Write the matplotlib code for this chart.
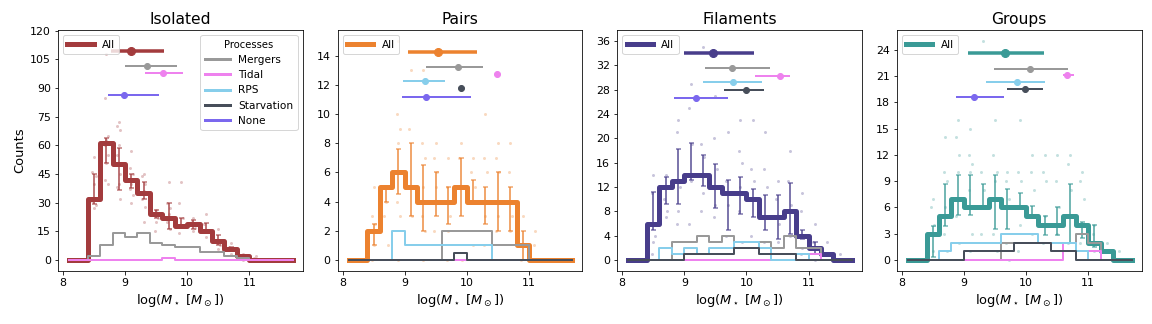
import numpy as np
import matplotlib
matplotlib.use('Agg')
import matplotlib.pyplot as plt
from matplotlib.lines import Line2D

# bin centres of the stellar mass histograms
centers = [8.1, 8.3, 8.5, 8.7, 8.9, 9.1, 9.3, 9.5, 9.7, 9.9,
           10.1, 10.3, 10.5, 10.7, 10.9, 11.1, 11.3, 11.5, 11.7]

envs = ['Isolated', 'Pairs', 'Filaments', 'Groups']
env_colors = ['#a33b3d', '#ec822f', '#483d8b', '#3a9a96']

processes = ['Mergers', 'Tidal', 'RPS', 'Starvation', 'None']
proc_colors = ['#999999', '#ee82ee', '#87ceeb', '#474e5a', '#7b68ee']

nan = np.nan

# ---- Isolated ----
iso_all = [0, 0, 32, 61, 50, 42, 35, 24, 22, 18, 19, 15, 10, 6, 2, 0, 0, 0, 0]
iso_proc = {
    'Mergers': [0, 0, 2, 8, 14, 12, 14, 9, 8, 7, 7, 4, 4, 2, 1, 0, 0, 0, 0],
    'Tidal':   [0, 0, 0, 0, 0, 0, 0, 0, 1, 0, 0, 0, 0, 0, 0, 0, 0, 0, 0],
}
iso_lo = [nan, nan, 29.5, 51, 36.5, 37.5, 32, 22, 16, 17.5, 16, 14, 8, 4.5, 1.5, nan, nan, nan, nan]
iso_hi = [nan, nan, 45, 64, 58.5, 45, 41, 26, 30, 22, 21, 19.5, 13, 7, 2.5, nan, nan, nan, nan]
iso_dots = [[], [], [54, 46, 44, 40, 31, 29, 27], [108, 85, 65, 63, 60, 55, 51, 42, 40],
            [72, 70, 68, 60, 55, 45, 40, 38, 32], [57, 48, 45, 40, 37, 34, 30],
            [45, 44, 40, 36, 32, 28, 20], [26, 24, 22, 20, 15], [41, 30, 27, 24, 20, 16],
            [41, 30, 22, 18, 14], [22, 20, 17, 15], [24, 19, 15, 12], [16, 10, 8, 6],
            [9, 7, 5, 3], [3, 2, 1, 0], [2, 1, 0], [], [], []]
# (median, low, high, y) of log M* per process
iso_med = {'All': (9.10, 8.78, 9.63, 109.4), 'Mergers': (9.36, 9.0, 9.84, 101.5),
           'Tidal': (9.61, 9.32, 9.94, 97.9), 'None': (8.99, 8.72, 9.55, 86.5)}

# ---- Pairs ----
pair_all = [0, 0, 2, 5, 6, 5, 4, 4, 4, 5, 4, 4, 4, 4, 1, 0, 0, 0, 0]
pair_proc = {
    'Mergers':    [0, 0, 0, 0, 0, 0, 0, 0, 2, 2, 2, 2, 1, 1, 1, 0, 0, 0, 0],
    'Tidal':      [0] * 19,
    'RPS':        [0, 0, 0, 0, 2, 1, 1, 1, 1, 1, 1, 1, 0, 0, 0, 0, 0, 0, 0],
    'Starvation': [0, 0, 0, 0, 0, 0, 0, 0, 0, 0.5, 0, 0, 0, 0, 0, 0, 0, 0, 0],
}
pair_lo = [nan, nan, 1, 4, 4.5, 3, 2, 3, 2.5, 3, 4, 2.5, 2, 2, 0, nan, nan, nan, nan]
pair_hi = [nan, nan, 2.5, 5, 7.6, 8, 6.5, 6, 5, 7, 5.5, 5, 6, 5, 2, nan, nan, nan, nan]
pair_dots = [[0], [], [5, 3, 2.5, 1, 0], [4, 3, 1], [15, 10, 9, 8, 4, 3, 0], [13, 9, 3],
             [13, 8, 7, 5, 3, 2, 0], [8, 7, 6, 5, 2], [7, 5, 3, 2, 0], [8, 7, 0],
             [7, 6, 5, 1], [10, 7, 6, 3, 1], [8, 7, 6, 3, 2], [8, 6, 3, 2], [3, 0],
             [2, 1], [], [], [0]]
pair_med = {'All': (9.54, 9.05, 10.16, 14.25), 'Mergers': (9.86, 9.34, 10.26, 13.2),
            'Tidal': (10.49, 10.49, 10.49, 12.76), 'RPS': (9.32, 8.98, 9.65, 12.25),
            'Starvation': (9.91, 9.91, 9.91, 11.77), 'None': (9.34, 8.96, 10.06, 11.2)}

# ---- Filaments ----
fil_all = [0, 0, 6, 12, 13, 14, 14, 12, 11, 11, 10, 7, 7, 8, 4, 2, 1, 0, 0]
fil_proc = {
    'Mergers':    [0, 0, 0, 0, 3, 3, 4, 3, 4, 3, 3, 3, 2, 4, 2, 2, 0, 0, 0],
    'Tidal':      [0, 0, 0, 0, 0, 0, 0, 0, 0, 0, 0, 0, 1, 1, 1, 1, 0, 0, 0],
    'RPS':        [0, 0, 0, 2, 1, 2, 1, 2, 2, 3, 3, 2, 0, 0, 1, 0, 0, 0, 0],
    'Starvation': [0, 0, 0, 0, 0, 1, 1, 1, 1, 2, 2, 1, 1, 1, 0, 0, 0, 0, 0],
}
fil_lo = [nan, nan, 5, 9.2, 9.2, 13.2, 12.1, 8.6, 5, 7.6, 7.1, 5, 3.4, 4.2, 3.5, 1, nan, nan, nan]
fil_hi = [nan, nan, 11.2, 13.6, 18.3, 19.3, 17.3, 15.8, 13.2, 13.6, 11.7, 10.7, 10.7, 12.6, 5, 3, nan, nan, nan]
fil_dots = [[0], [], [14, 11, 4, 3, 1], [14, 10, 8, 7], [23, 21, 12, 8, 6],
            [29, 25, 19, 13, 6], [35, 19, 17, 11, 8], [27, 20, 15, 9, 7],
            [21, 13, 11, 9, 4], [23, 18, 16, 12, 8, 3], [23, 15, 13, 10, 4],
            [21, 15, 12, 7, 3], [13, 10, 6, 3], [18, 13, 9, 4], [11, 8, 4, 2, 1],
            [6, 3, 2, 0], [3, 1], [1], [0]]
fil_med = {'All': (9.47, 9.0, 10.12, 34.0), 'Mergers': (9.76, 9.33, 10.38, 31.6),
           'Tidal': (10.54, 10.13, 10.7, 30.3), 'RPS': (9.78, 9.3, 10.25, 29.2),
           'Starvation': (10.0, 9.64, 10.28, 28.0), 'None': (9.19, 8.84, 9.70, 26.7)}

# ---- Groups ----
grp_all = [0, 0, 3, 5, 7, 6, 6, 7, 6, 6, 5, 4, 4, 5, 4, 2, 1, 0, 0]
grp_proc = {
    'Mergers':    [0, 0, 0, 0, 0, 0, 0, 0, 2, 2, 2, 2, 2, 2, 3, 2, 0, 0, 0],
    'Tidal':      [0, 0, 0, 0, 0, 0, 0, 0, 0, 0, 0, 0, 0, 2, 1, 1, 0, 0, 0],
    'RPS':        [0, 0, 0, 1, 2, 2, 2, 2, 3, 3, 3, 2, 2, 2, 1, 0, 0, 0, 0],
    'Starvation': [0, 0, 0, 0, 0, 1, 1, 1, 1, 2, 2, 2, 1, 1, 0, 0, 0, 0, 0],
}
grp_lo = [nan, nan, 0.4, 3.9, 5.1, 5.1, 6.2, 3.5, 3.5, 6.2, 5, 2.9, 2.9, 1.9, 2.5, 1.5, nan, nan, nan]
grp_hi = [nan, nan, 3.9, 8.65, 9.7, 9.7, 8.65, 9.7, 8.1, 7.7, 6.2, 5, 6.1, 8.65, 4.4, 4, nan, nan, nan]
grp_dots = [[0], [], [7, 6, 4, 1], [14, 10, 9, 6, 3, 1], [16, 14, 12, 10, 5, 2],
            [15, 12, 11, 10, 8, 3, 1], [25, 10, 8, 6, 3], [16, 12, 10, 9, 3, 1],
            [10, 9, 7, 6, 2, 0], [16, 10, 9, 4, 1], [12, 10, 8, 3], [12, 10, 9, 5, 2],
            [12, 9, 6, 3], [12, 11, 8, 5, 2], [10, 9, 7, 4, 2], [4, 3, 2, 1], [2, 1], [1], [0]]
grp_med = {'All': (9.66, 9.07, 10.29, 23.6), 'Mergers': (10.07, 9.48, 10.68, 21.8),
           'Tidal': (10.66, 10.59, 10.77, 21.1), 'RPS': (9.85, 9.36, 10.31, 20.3),
           'Starvation': (9.99, 9.70, 10.28, 19.5), 'None': (9.16, 8.87, 9.64, 18.6)}

all_counts = [iso_all, pair_all, fil_all, grp_all]
proc_counts = [iso_proc, pair_proc, fil_proc, grp_proc]
err_lo = [iso_lo, pair_lo, fil_lo, grp_lo]
err_hi = [iso_hi, pair_hi, fil_hi, grp_hi]
dots = [iso_dots, pair_dots, fil_dots, grp_dots]
medians = [iso_med, pair_med, fil_med, grp_med]

ylims = [(-5.73, 120.3), (-0.75, 15.75), (-1.8, 37.8), (-1.25, 26.25)]
yticks = [np.arange(0, 121, 15), np.arange(0, 15, 2), np.arange(0, 37, 4), np.arange(0, 25, 3)]
jitter = [0.0, -0.025, 0.025]

fig, axes = plt.subplots(1, 4, figsize=(16, 4.5), dpi=72)
plt.subplots_adjust(left=0.0503, right=0.991, top=0.907, bottom=0.1636, wspace=0.142)

for k, ax in enumerate(axes):
    c = env_colors[k]
    x = np.array(centers)

    # scattered counts of individual realisations
    dx, dy = [], []
    for i, vals in enumerate(dots[k]):
        for j, v in enumerate(vals):
            dx.append(centers[i] + jitter[j % 3])
            dy.append(v)
    ax.scatter(dx, dy, s=9, color=c, alpha=0.3, lw=0, zorder=1)

    ax.plot(x, all_counts[k], drawstyle='steps-mid', color=c, lw=5, zorder=3)

    lo = np.array(err_lo[k]); hi = np.array(err_hi[k])
    ok = ~np.isnan(lo)
    mid = (lo + hi) / 2
    ax.errorbar(x[ok], mid[ok], yerr=(hi[ok] - lo[ok]) / 2, fmt='none',
                ecolor=c, alpha=0.7, elinewidth=2, capsize=2.5, capthick=1.5, zorder=2)

    for p, pc in zip(processes, proc_colors):
        if p in proc_counts[k]:
            ax.plot(x, proc_counts[k][p], drawstyle='steps-mid', color=pc, lw=2, zorder=4)

    # median and spread of each population
    for name, (m, l, h, yy) in medians[k].items():
        if name == 'All':
            col, lw, ms = c, 3.5, 8
        else:
            col, lw, ms = proc_colors[processes.index(name)], 2, 6
        ax.errorbar([m], [yy], xerr=[[m - l], [h - m]], fmt='o', color=col,
                    lw=lw, ms=ms, capsize=0, zorder=5)

    ax.set_xlim(7.92, 11.86)
    ax.set_ylim(*ylims[k])
    ax.set_xticks([8, 9, 10, 11])
    ax.set_yticks(yticks[k])
    ax.tick_params(labelsize=11)
    ax.set_title(envs[k], fontsize=15.5)
    ax.set_xlabel(r'log($M_\star$ [$M_\odot$])', fontsize=13)

    leg1 = ax.legend([Line2D([], [], color=c, lw=5)], ['All'], loc='upper left',
                     fontsize=10.5, handlelength=2.5)
    if k == 0:
        handles = [Line2D([], [], color=pc, lw=3) for pc in proc_colors]
        ax.legend(handles, processes, loc='upper right', title='Processes',
                  fontsize=10.5, title_fontsize=10, handlelength=2.4)
        ax.add_artist(leg1)

axes[0].set_ylabel('Counts', fontsize=13)

plt.savefig('out.png', dpi=72)
